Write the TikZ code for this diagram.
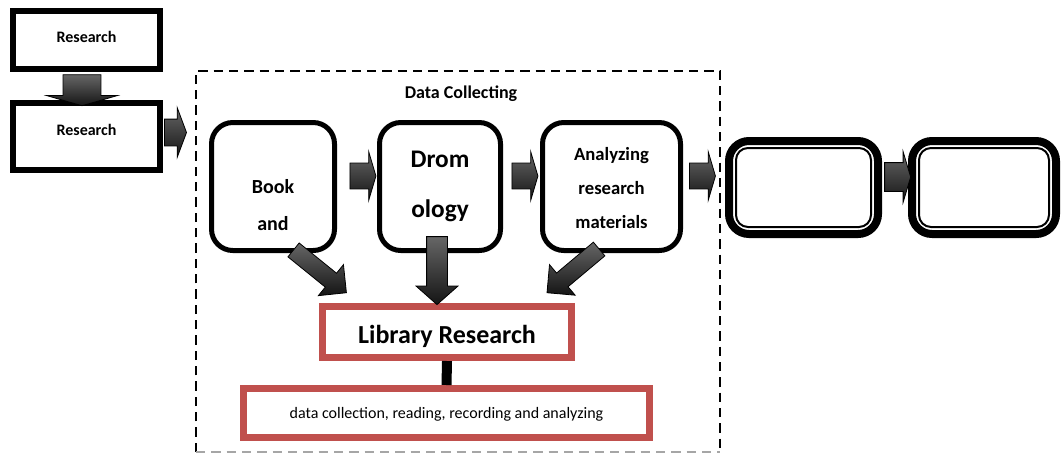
\documentclass[tikz,border=0pt]{standalone}
\usepackage{fontspec}
\setmainfont{Carlito}
\usetikzlibrary{shapes.arrows, calc}
\definecolor{boxred}{RGB}{192,80,77}
\tikzset{
    %Define style for the square boxes
    resbox/.style={
           rectangle,
           draw=black, line width=4.5pt,
           fill=white,
           minimum width=110.25pt,
           font=\bfseries\fontsize{12}{14}\selectfont,
           text centered},
    % Define style for the rounded boxes
    roundbox/.style={
           rectangle,
           rounded corners=16pt,
           draw=black, line width=3.75pt,
           fill=white,
           minimum height=96pt,
           align=center},
    % Define style for the double framed boxes
    dblbox/.style={
           rectangle,
           rounded corners=15pt,
           draw=black, line width=6pt,
           fill=white,
           minimum height=69.75pt},
    dblinner/.style={
           rounded corners=9pt,
           draw=black, line width=1.5pt},
    % Define style for the red boxes
    redbox/.style={
           rectangle,
           draw=boxred, line width=5.25pt,
           fill=white},
    % Define block arrow style
    blockarr/.style={
           single arrow,
           draw=black, line width=0.6pt,
           inner xsep=0pt, inner ysep=9.4pt,
           minimum width=0pt,
           top color=black!60, middle color=black!35, bottom color=black!92,
           minimum height=19.5pt,
           single arrow head extend=8.6pt,
           single arrow tip angle=147},
    % Define style for the diagonal block arrows
    bigarr/.style={
           blockarr,
           minimum height=51pt,
           inner ysep=6.4pt,
           single arrow head extend=8.25pt,
           single arrow tip angle=90},
    frame/.style={
           line width=1.9pt,
           dash pattern=on 7pt off 4.5pt}
}

\begin{document}
\begin{tikzpicture}[x=0.75pt, y=-0.75pt]
	\useasboundingbox (0,0) rectangle (1063,454);
	%
	% cadre
	%
	\draw[frame] (196,452) -- (196,71) -- (720,71) -- (720,452);
	\draw[frame, draw=black!35] (196,452) -- (720,452);
	%
	% noeuds
	%
	\node[resbox, minimum height=43.5pt, text height=9pt, text depth=6pt] (backgr) at (86.5,40) {Research};
	\node[resbox, minimum height=50.25pt, text height=8pt, text depth=10.25pt] (quest) at (86.5,136.5) {Research};
	\node[font=\bfseries\fontsize{13.5}{16}\selectfont] (collect) at (461,94) {Data Collecting};
	\node[roundbox, minimum width=92.25pt, font=\bfseries\fontsize{15}{27.75}\selectfont,
	      text height=67pt, text depth=0.75pt] (book) at (273,186.5) {Book\\and};
	\node[roundbox, minimum width=90.75pt, font=\bfseries\fontsize{19}{38}\selectfont,
	      text height=47pt, text depth=0.25pt] (drom) at (440,186.5) {Drom\\ology};
	\node[roundbox, minimum width=103.5pt, font=\bfseries\fontsize{14}{25.5}\selectfont,
	      text height=63pt, text depth=0.25pt] (analyz) at (611.5,186.5) {Analyzing\\research\\materials};
	\node[dblbox, minimum width=111.75pt] (result) at (803.5,187.5) {};
	\node[dblbox, minimum width=108pt] (concl) at (984,187.5) {};
	\draw[dblinner] ([shift={(11,11)}]result.north west) rectangle ([shift={(-11,-11)}]result.south east);
	\draw[dblinner] ([shift={(11,11)}]concl.north west) rectangle ([shift={(-11,-11)}]concl.south east);
	\node[redbox, minimum width=186.75pt, minimum height=38.25pt, font=\bfseries\fontsize{19.5}{22}\selectfont,
	      text height=17pt, text depth=0.5pt] (library) at (447,332) {Library Research};
	\node[redbox, minimum width=304.5pt, minimum height=36.75pt, font=\fontsize{12}{14}\selectfont,
	      text height=9pt, text depth=1.5pt] (method) at (446.5,413) {data collection, reading, recording and analyzing};
	%
	% Liens
	%
	\node[blockarr, rotate=-90, minimum height=23.25pt, inner ysep=13.9pt,
	      single arrow head extend=12.4pt, single arrow tip angle=148] (down) at (82,87.5) {};
	\node[blockarr, minimum height=16.5pt, inner ysep=9.75pt,
	      single arrow head extend=8.6pt, single arrow tip angle=139] (toframe) at (173,132.5) {};
	\node[blockarr] (arr1) at (361,176) {};
	\node[blockarr] (arr2) at (523,176) {};
	\node[blockarr] (arr3) at (700.5,176) {};
	\node[blockarr, inner ysep=10.5pt, single arrow head extend=8.25pt] (arr4) at (895.5,177) {};
	\node[bigarr, rotate=-39] (diag1) at (316.5,268.5) {};
	\node[bigarr, rotate=-90, inner ysep=7.5pt, single arrow head extend=7.9pt,
	      single arrow tip angle=97] (diag2) at (437,266) {};
	\node[bigarr, rotate=-140] (diag3) at (576.5,268) {};
	\draw[line width=7.5pt] (library.south) -- (method.north);
\end{tikzpicture}
\end{document}
